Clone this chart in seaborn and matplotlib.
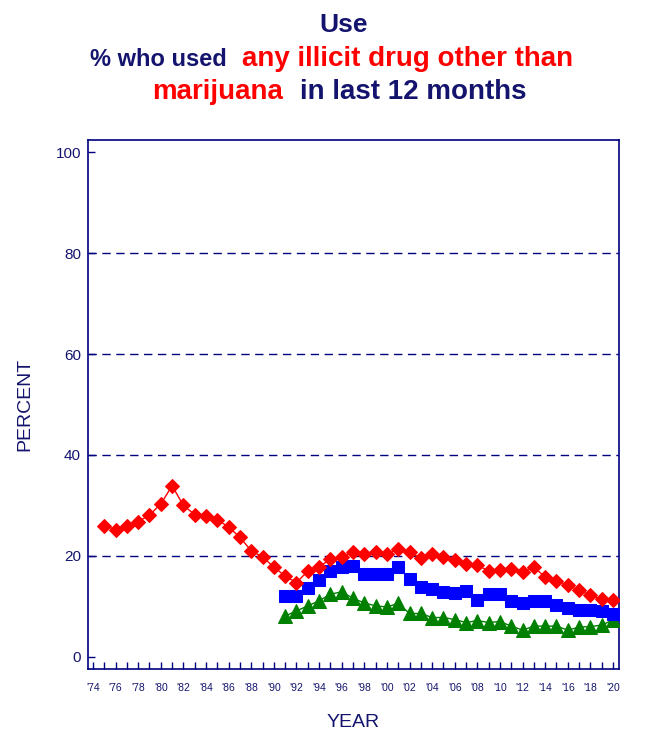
import matplotlib
matplotlib.use("Agg")
from matplotlib import pyplot as plt
from matplotlib.ticker import MultipleLocator, FixedLocator
import pandas as pd
import seaborn as sns

# 12th grade (red diamonds), 1975-2020
years_12 = list(range(1975, 2021))
pct_12 = [26.0, 25.2, 26.0, 26.8, 28.1, 30.3, 33.9, 30.0, 28.2, 28.0,
          27.2, 25.7, 23.7, 21.0, 19.8, 17.8, 16.0, 14.7, 17.0, 17.9,
          19.3, 19.8, 20.8, 20.3, 20.8, 20.4, 21.4, 20.8, 19.6, 20.4,
          19.7, 19.1, 18.5, 18.2, 17.0, 17.3, 17.5, 16.8, 17.8, 15.8,
          15.1, 14.2, 13.2, 12.2, 11.4, 11.3]

# 10th grade (blue squares), 1991-2020
years_10 = list(range(1991, 2021))
pct_10 = [12.1, 12.1, 13.7, 15.2, 17.0, 17.9, 18.1, 16.5, 16.5, 16.5,
          17.8, 15.5, 13.9, 13.4, 12.8, 12.6, 13.0, 11.2, 12.4, 12.4,
          11.1, 10.6, 11.1, 11.1, 10.3, 9.6, 9.3, 9.3, 9.0, 8.5]

# 8th grade (green triangles), 1991-2020
years_8 = list(range(1991, 2021))
pct_8 = [8.1, 9.1, 10.1, 11.1, 12.4, 12.9, 11.6, 10.7, 10.1, 9.9,
         10.6, 8.6, 8.6, 7.8, 7.8, 7.4, 6.8, 7.2, 6.8, 7.0,
         6.1, 5.3, 6.1, 6.1, 6.1, 5.3, 5.9, 6.0, 6.3, 7.3]

x_tick_years = list(range(1974, 2021, 2))
x_tick_labels = ["'%02d" % (y % 100) for y in x_tick_years]
y_ticks = [0, 20, 40, 60, 80, 100]

NAVY = "#14146e"
AXIS = "#000080"

sns.set_style("white")
plt.rcParams["font.family"] = ["Liberation Sans", "DejaVu Sans"]

W, H = 649, 736
fig = plt.figure(figsize=(W / 100, H / 100), dpi=100)
ax = fig.add_axes([88 / W, 1 - 669 / H, (619 - 88) / W, (669 - 140) / H])

# dashed reference lines
for yv in [20, 40, 60, 80]:
    ax.axhline(yv, color=AXIS, lw=1.0, ls=(0, (6, 4)), zorder=1)

df8 = pd.DataFrame({"year": years_8, "pct": pct_8})
df10 = pd.DataFrame({"year": years_10, "pct": pct_10})
df12 = pd.DataFrame({"year": years_12, "pct": pct_12})

sns.lineplot(data=df8, x="year", y="pct", ax=ax, color="#008000", lw=1,
             marker="^", markersize=9.5, markeredgecolor="#008000", zorder=3)
sns.lineplot(data=df10, x="year", y="pct", ax=ax, color="#0000ff", lw=1,
             marker="s", markersize=9.2, markeredgecolor="#0000ff", zorder=4)
sns.lineplot(data=df12, x="year", y="pct", ax=ax, color="#ff0000", lw=1,
             marker="D", markersize=7, markeredgecolor="#ff0000", zorder=5)

ax.set_xlim(1973.56, 2020.53)
ax.set_ylim(-2.4, 102.4)

ax.xaxis.set_major_locator(FixedLocator(x_tick_years))
ax.xaxis.set_minor_locator(MultipleLocator(1))
ax.set_xticklabels(x_tick_labels)
ax.set_yticks(y_ticks)

ax.tick_params(axis="x", which="both", direction="in", length=5, width=1,
               color=AXIS, labelcolor=NAVY, labelsize=7.5, pad=10,
               bottom=True, top=False)
ax.tick_params(axis="y", which="both", direction="in", length=5, width=1,
               color=AXIS, labelcolor=NAVY, labelsize=11, pad=5,
               left=True, right=False)

for side in ["left", "right", "top", "bottom"]:
    ax.spines[side].set_visible(True)
    ax.spines[side].set_color(AXIS)
    ax.spines[side].set_linewidth(1.2)

ax.set_xlabel("YEAR", fontsize=14, color=NAVY, labelpad=15)
ax.set_ylabel("PERCENT", fontsize=14, color=NAVY, labelpad=16)

# title made of coloured pieces
fig.text(344 / W, 1 - 32 / H, "Use", ha="center", va="baseline",
         fontsize=19, fontweight="bold", color=NAVY)
fig.text(90 / W, 1 - 66 / H, "% who used", ha="left", va="baseline",
         fontsize=17, fontweight="bold", color=NAVY)
fig.text(242 / W, 1 - 66 / H, "any illicit drug other than", ha="left",
         va="baseline", fontsize=20, fontweight="bold", color="#ff0000")
fig.text(152 / W, 1 - 99 / H, "marijuana", ha="left", va="baseline",
         fontsize=20, fontweight="bold", color="#ff0000")
fig.text(300 / W, 1 - 99 / H, "in last 12 months", ha="left", va="baseline",
         fontsize=20, fontweight="bold", color=NAVY)

fig.savefig("out.png", dpi=100)
